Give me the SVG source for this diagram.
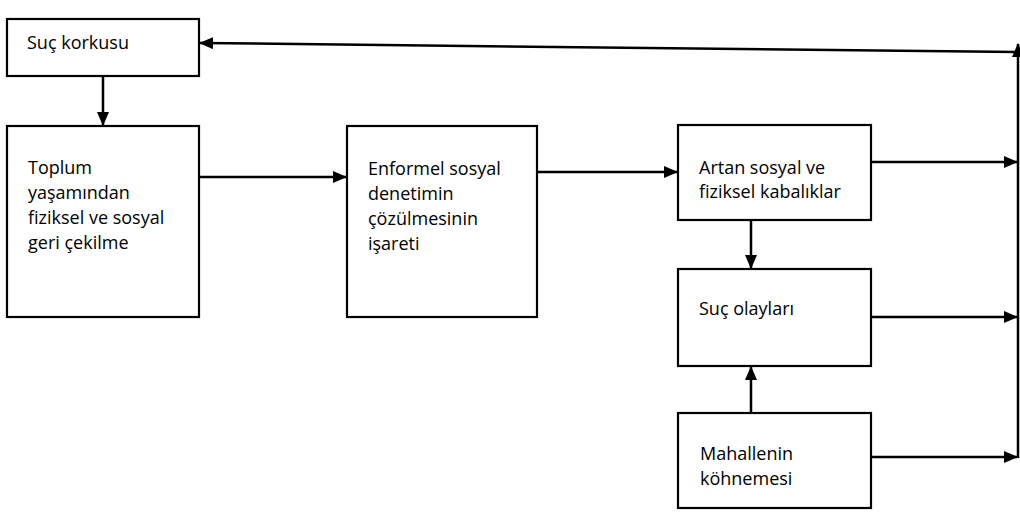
<svg xmlns="http://www.w3.org/2000/svg" width="1020" height="513" viewBox="0 0 1020 513">
<style>
.box{fill:#fff;stroke:#000;stroke-width:2.2}
.t{font-family:"Open Sans","Liberation Sans",sans-serif;font-size:18px;fill:#000}
.c{fill:none;stroke:#000;stroke-width:2.5}
</style>
<defs>
<marker id="ah" markerWidth="14" markerHeight="12" refX="13" refY="6" orient="auto" markerUnits="userSpaceOnUse">
<path d="M0,0 L14,6 L0,12 Z" fill="#000"/>
</marker>
</defs>
<rect width="1020" height="513" fill="#fff"/>
<g id="connectors">
<line class="c" x1="103" y1="77" x2="103" y2="125" marker-end="url(#ah)"/>
<line class="c" x1="199" y1="177" x2="346" y2="177" marker-end="url(#ah)"/>
<line class="c" x1="537" y1="172" x2="677" y2="172" marker-end="url(#ah)"/>
<line class="c" x1="751" y1="221" x2="751" y2="268" marker-end="url(#ah)"/>
<line class="c" x1="751" y1="412" x2="751" y2="367" marker-end="url(#ah)"/>
<line class="c" x1="871" y1="162" x2="1017" y2="162" marker-end="url(#ah)"/>
<line class="c" x1="871" y1="317" x2="1017" y2="317" marker-end="url(#ah)"/>
<line class="c" x1="871" y1="457" x2="1017" y2="457" marker-end="url(#ah)"/>
<line class="c" x1="1018" y1="458" x2="1018" y2="44" marker-end="url(#ah)"/>
<line class="c" x1="1017" y1="52" x2="200" y2="43" marker-end="url(#ah)"/>
</g>
<g id="n1"><rect class="box" x="7" y="19" width="192" height="57"/><text class="t" x="27" y="49">Suç korkusu</text></g>
<g id="n2"><rect class="box" x="7" y="126" width="192" height="191"/>
<text class="t"><tspan x="28" y="174">Toplum</tspan><tspan x="28" y="199">yaşamından</tspan><tspan x="28" y="224">fiziksel ve sosyal</tspan><tspan x="28" y="249">geri çekilme</tspan></text></g>
<g id="n3"><rect class="box" x="347" y="126" width="190" height="191"/>
<text class="t"><tspan x="368" y="175">Enformel sosyal</tspan><tspan x="368" y="200">denetimin</tspan><tspan x="368" y="225">çözülmesinin</tspan><tspan x="368" y="250">işareti</tspan></text></g>
<g id="n4"><rect class="box" x="678" y="125" width="193" height="95"/>
<text class="t"><tspan x="699" y="174">Artan sosyal ve</tspan><tspan x="699" y="198">fiziksel kabalıklar</tspan></text></g>
<g id="n5"><rect class="box" x="678" y="269" width="193" height="97"/><text class="t" x="699" y="315">Suç olayları</text></g>
<g id="n6"><rect class="box" x="678" y="413" width="193" height="95"/>
<text class="t"><tspan x="700" y="460">Mahallenin</tspan><tspan x="700" y="485">köhnemesi</tspan></text></g>
</svg>
